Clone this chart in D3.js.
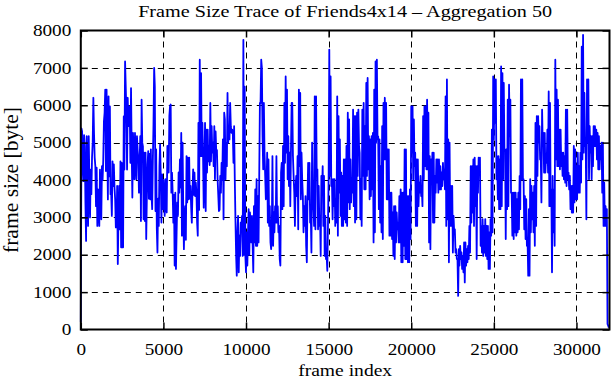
<!DOCTYPE html>
<html><head><meta charset="utf-8">
<script src="https://cdn.jsdelivr.net/npm/d3@7/dist/d3.min.js"></script>
<style>body{margin:0;background:#fff}svg{display:block}</style>
</head><body>
<svg id="c" width="611" height="380"></svg>
<script>
const titleText = "Frame Size Trace of Friends4x14 \u2013 Aggregation 50";
const xLabel = "frame index";
const yLabel = "frame size [byte]";
const frameStep = 40;
const xTicks = [0, 5000, 10000, 15000, 20000, 25000, 30000];
const yTicks = [0, 1000, 2000, 3000, 4000, 5000, 6000, 7000, 8000];
// frame sizes [byte] (one value every 40 frames)
const frameSizes = [
200,5380, 5300,4300, 3970,5200, 4900,3400, 2370,5170, 4000,2770, 5170,4000, 3000,4280, 3620,4600, 5000,6200,
5260,4600, 4370,3300, 4330,2770, 3750,3300, 2770,4280, 3600,2950, 4370,4000, 4550,5570, 5800,6420, 4240,6420,
5000,3480, 6240,4100, 5970,3620, 3620,3040, 4500,3840, 4420,3800, 3480,2730, 2730,3840, 1750,3000, 3840,2680,
4500,2200, 4460,2200, 2200,5700, 4280,7170, 6500,5800, 4280,6200, 5440,5800, 5970,4460, 6460,4800, 3530,5260,
4500,4020, 5260,4500, 4020,5170, 4800,4550, 3660,4500, 5170,2900, 6150,5000, 4900,2950,
4730,2900, 4730,2420, 3600,4400, 4770,3500, 4700,3485, 4820,3600, 3220,4500, 5500,7000, 6500,3170, 4820,2700,
2060,3500, 2770,4370, 4950,4110, 2860,4150, 3220,4000, 3485,3040, 4020,3300, 3130,4910, 4700,4200, 5710,5970,
6020,3660, 4200,3660, 2860,3600, 1710,3660, 1620,2600, 3400,3040, 4200,3660, 4550,3800, 5260,2510, 5000,3300,
2150,3000, 3300,2400, 4640,3400, 4600,3485, 4600,3500, 3840,3260, 2860,3700, 4285,3600, 4200,3570, 3930,3660,
2860,2510, 5530,3200, 7220,4640, 6860,4640, 5530,4640, 3260,4200, 5530,3170, 5350,4200, 5350,4500, 4910,4400,
6060,4500, 5440,4730, 5000,4370, 5440,4020, 5300,4730, 4800,4020, 3600,3170, 3200,4110, 3660,4460, 4000,5085,
2950,5800, 5620,4020, 5000,4370, 6330,5000, 5350,5085, 6060,5440, 5260,5350, 5260,4460, 5440,4020, 2950,2000,
1440,2600, 3040,1530, 2510,1970, 2860,2770, 3040,1970, 7750,2000, 6500,1970, 1530,2600, 1710,2600, 3220,2000,
3130,2770, 2330,3040, 2240,1530, 3300,2330, 3750,2240, 4020,2240, 3570,2330, 4110,6060, 6060,7220, 7000,5170,
4285,6060, 4730,4110, 3485,3750, 4730,2860, 4550,2770, 3300,2330, 2150,2600, 4640,2240, 3130,2600, 3300,2860,
4640,2860, 3300,2600, 2770,1885, 1710,4200, 4460,3220, 4910,3300, 6060,4460, 6770,4730, 6420,4020, 5170,3840,
4730,3300, 4800,6060, 6060,4640, 4110,3660, 2770,3800, 4110,3570, 4640,2680, 6420,4370, 6330,3485, 4730,4020,
3570,2600, 3300,2770, 3570,2240, 1800,3485, 4460,3485, 4460,2860, 3040,2060, 5000,3220, 3300,2770, 6240,2680,
6240,4110, 4285,2680, 3840,2770, 3040,1970, 4110,3660, 4370,2770, 4110,1970, 3040,1885, 1970,1570, 2770,4020,
7490,4110, 6770,3840, 4020,2950, 4020,3300, 4020,2770, 3485,2860, 6240,2510, 5710,3660, 5085,3040, 4200,2770,
4110,2770, 4550,2950, 4550,2860, 4910,2770, 5800,3400, 5620,3220, 4550,3400, 4020,3660, 5885,3300, 5710,2860,
5710,2950, 5800,4110, 5885,4910, 4730,2950, 4020,2770, 5885,4110, 6060,3750, 5440,3750, 6600,4110, 6730,4285,
5170,3485, 5085,3570, 5170,3750, 5260,2330, 6420,2600, 7170,5000, 7220,5085, 5170,3220, 5085,2860, 4370,2600,
5440,2420, 6060,4550, 6200,4550, 6060,3485, 4820,3485, 4820,2510, 3660,2510, 3660,2420, 3130,1970, 3300,1885,
3300,2330, 3130,2680, 2860,2330, 3570,2330, 3750,1800, 3660,1800, 3660,2240, 4820,1885, 4820,1885, 3570,1800,
3570,1800, 3750,2420, 5970,4730, 5970,4020, 5620,4370, 4730,2770, 4550,2770, 4550,3300, 3930,3660, 4110,3570,
3750,3300, 5710,4020, 5970,4370, 5970,4285, 6150,4285, 5800,2330, 4640,2150, 4550,4020, 4730,2860, 4730,2860,
4110,3660, 4550,3930, 4550,3660, 4550,3750, 4370,3750, 4200,3840, 4460,4020, 4285,3750, 6240,2770, 6690,2950,
5085,1800, 5000,2770, 3840,2770, 3840,2060, 3040,2600, 2680,2060, 2150,1885, 1885,900, 2150,1710, 2240,1885,
2060,1620, 1970,1530, 2330,1260, 2330,1710, 2150,1800, 2240,1885, 2770,2060, 4370,2860, 4370,3130, 4550,2770,
4600,3300, 4370,1885, 4370,3660, 4600,4285, 4600,2240, 2770,2060, 2950,1970, 2770,2060, 2950,1970, 2770,1885,
2770,1620, 2600,1620, 2950,2510, 5350,2600, 6770,5085, 6690,5530, 6690,4020, 4640,3485, 4640,3220, 4550,3220,
7040,3300, 6860,4020, 6600,4820, 4820,2420, 4820,3220, 6150,3300, 6550,5170, 6150,3660, 3660,2510, 3660,2420,
3660,2600, 3660,2510, 3485,2600, 3660,2680, 4110,3220, 6690,4020, 6690,4020, 4020,2680, 3570,2420, 3485,2240,
2420,1440, 3220,1440, 4020,2600, 3840,2950, 3660,2600, 3840,2240, 5530,2770, 5710,4110, 5710,5000, 5440,4550,
4640,3400, 5885,4910, 5260,4200, 5260,4200, 4640,4460, 5350,4200, 6370,3300, 6060,3300, 3750,1530, 4110,2600,
3750,2240, 7220,4550, 6420,4370, 6150,4370, 5350,4285, 5350,4370, 4730,4110, 4730,4020, 4640,3930, 5885,3840,
5885,4020, 4200,3750, 4110,3220, 3840,3130, 3840,3130, 4910,3400, 4820,3485, 4370,3485, 4730,3660, 4370,3660,
4730,3930, 7570,4550, 7885,4730, 6330,4910, 5000,2950, 6690,5000, 6690,4020, 5440,4730, 5170,4020, 5170,4370,
5440,4910, 5440,4910, 5350,4550, 5260,4285, 5170,4285, 4910,4550, 5000,3660, 5000,2770, 3930,2770, 3300,2770,
3220,150, 100,50
];

const svg = d3.select("#c");
const font = "'Liberation Serif','Times New Roman',Times,serif";
const L = 80.8, R = 609.5, T = 30.5, B = 329.5;
const x = d3.scaleLinear().domain([0, 32000]).range([L, R]);
const y = d3.scaleLinear().domain([0, 8000]).range([B, T]);

function fitWidth(sel, target) {
  sel.each(function () {
    const w = this.getComputedTextLength();
    const tw = typeof target === "function" ? target(w) : target;
    d3.select(this).attr("textLength", tw).attr("lengthAdjust", "spacingAndGlyphs");
  });
}

// grid
const grid = svg.append("g").attr("stroke", "#000").attr("stroke-width", 1).attr("stroke-dasharray", "6,5");
grid.selectAll("line.gx").data(xTicks.filter(d => d > 0)).enter().append("line")
  .attr("x1", d => Math.round(x(d)) + 0.5).attr("x2", d => Math.round(x(d)) + 0.5)
  .attr("y1", T).attr("y2", B);
grid.selectAll("line.gy").data(yTicks.filter(d => d > 0 && d < 8000)).enter().append("line")
  .attr("y1", d => Math.round(y(d)) + 0.5).attr("y2", d => Math.round(y(d)) + 0.5)
  .attr("x1", L).attr("x2", R);

// data line
const pts = frameSizes.map((v, i) => [i * frameStep, v]);
svg.append("path").datum(pts)
  .attr("fill", "none").attr("stroke", "#0000ff").attr("stroke-width", 1.8)
  .attr("stroke-linejoin", "round")
  .attr("d", d3.line().x(d => x(d[0])).y(d => y(d[1])));

// axes
function styleAxis(g) {
  g.select(".domain").remove();
  g.selectAll(".tick line").attr("stroke", "#000").attr("stroke-width", 1.5);
  g.selectAll("text").attr("font-family", font).attr("font-size", 16).attr("fill", "#000");
}
const gx = svg.append("g").attr("transform", `translate(0,${B})`)
  .call(d3.axisBottom(x).tickValues(xTicks).tickSize(-7).tickPadding(14).tickFormat(d3.format("d")))
  .call(styleAxis);
fitWidth(gx.selectAll("text"), w => w * 1.2);
svg.append("g").attr("transform", `translate(0,${T})`)
  .call(d3.axisTop(x).tickValues(xTicks).tickSize(-7).tickFormat(""))
  .call(styleAxis);
const gy = svg.append("g").attr("transform", `translate(${L},0)`)
  .call(d3.axisLeft(y).tickValues(yTicks).tickSize(-7).tickPadding(9.5).tickFormat(d3.format("d")))
  .call(styleAxis);
fitWidth(gy.selectAll("text"), w => w * 1.2);
svg.append("g").attr("transform", `translate(${R},0)`)
  .call(d3.axisRight(y).tickValues(yTicks).tickSize(-7).tickFormat(""))
  .call(styleAxis);

// frame
svg.append("rect").attr("x", L).attr("y", T).attr("width", R - L).attr("height", B - T)
  .attr("fill", "none").attr("stroke", "#000").attr("stroke-width", 2);

// labels
const t = svg.append("text").attr("x", (L + R) / 2).attr("y", 17).attr("text-anchor", "middle")
  .attr("font-family", font).attr("font-size", 16.5).text(titleText);
fitWidth(t, 414);
const xl = svg.append("text").attr("x", (L + R) / 2).attr("y", 376).attr("text-anchor", "middle")
  .attr("font-family", font).attr("font-size", 16).text(xLabel);
fitWidth(xl, 94);
const yl = svg.append("text").attr("transform", `translate(18,180) rotate(-90)`).attr("text-anchor", "middle")
  .attr("font-family", font).attr("font-size", 21).text(yLabel);
fitWidth(yl, 146);
</script>
</body></html>
